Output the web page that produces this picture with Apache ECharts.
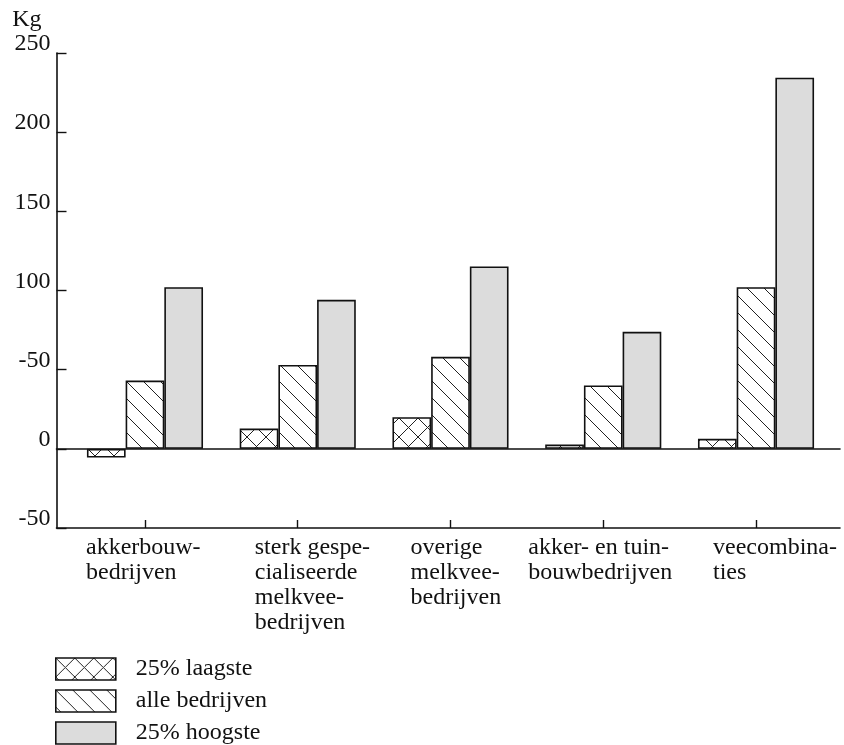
<!DOCTYPE html>
<html><head><meta charset="utf-8">
<script src="https://cdn.jsdelivr.net/npm/echarts@6/dist/echarts.min.js"></script>
<style>html,body{margin:0;padding:0;background:#fff}#c{width:844px;height:745px}</style>
</head><body><div id="c"></div>
<script>
// ---- data ----
const categories = [
  'akkerbouw-\nbedrijven',
  'sterk gespe-\ncialiseerde\nmelkvee-\nbedrijven',
  'overige\nmelkvee-\nbedrijven',
  'akker- en tuin-\nbouwbedrijven',
  'veecombina-\nties'
];
const seriesNames = ['25% laagste', 'alle bedrijven', '25% hoogste'];
const laagste = [-5.5, 12.8, 20.0, 2.7, 6.3];
const alle = [43.1, 53.0, 58.1, 40.0, 102.1];
const hoogste = [102.1, 94.1, 115.2, 73.9, 234.4];
const yTickValues = [-50, 0, 50, 100, 150, 200, 250];
const yTickLabels = ['-50', '0', '-50', '100', '150', '200', '250'];
const yUnit = 'Kg';

// ---- layout / style ----
const labelShift = [59, 43, 40, 75, 43];
const FONT = '"Liberation Serif", "DejaVu Serif", serif';
const INK = '#111';

function hatch(size, both) {
  const c = document.createElement('canvas');
  c.width = size; c.height = size;
  const g = c.getContext('2d');
  g.fillStyle = '#fff'; g.fillRect(0, 0, size, size);
  g.strokeStyle = '#222'; g.lineWidth = 1;
  g.beginPath();
  for (let k = -1; k <= 1; k++) {
    g.moveTo(0, k * size); g.lineTo(size, size + k * size);
    if (both) { g.moveTo(0, size + k * size); g.lineTo(size, k * size); }
  }
  g.stroke();
  return c;
}
const fills = [
  { image: hatch(19, true), repeat: 'repeat' },
  { image: hatch(17, false), repeat: 'repeat' },
  '#dcdcdc'
];
const seriesData = [laagste, alle, hoogste];

const chart = echarts.init(document.getElementById('c'), null, { renderer: 'canvas' });
const axisLineStyle = { color: INK, width: 1.6 };
const option = {
  animation: false,
  backgroundColor: '#fff',
  textStyle: { fontFamily: FONT, color: INK },
  grid: [
    { left: 56.5, right: 4, top: 53, bottom: 217, outerBoundsMode: 'none', containLabel: false },
    { left: 68.6, width: 763.8, top: 53, bottom: 217, outerBoundsMode: 'none', containLabel: false }
  ],
  legend: {
    orient: 'vertical', left: 55, top: 657, padding: 0, height: 160, width: 400,
    itemWidth: 60, itemHeight: 22, itemGap: 8,
    icon: 'rect', selectedMode: false,
    itemStyle: { borderColor: INK, borderWidth: 1.6 },
    textStyle: { fontFamily: FONT, fontSize: 24, color: INK, lineHeight: 22, padding: [0, 0, 0, 15] },
    data: seriesNames
  },
  xAxis: [
    { gridIndex: 0, type: 'value', min: 0, max: 1, position: 'top',
      axisLine: { show: true, onZero: true, lineStyle: axisLineStyle },
      axisTick: { show: false }, axisLabel: { show: false }, splitLine: { show: false } },
    { gridIndex: 0, type: 'value', min: 0, max: 1, position: 'bottom',
      axisLine: { show: true, onZero: false, lineStyle: axisLineStyle },
      axisTick: { show: false }, axisLabel: { show: false }, splitLine: { show: false } },
    { gridIndex: 1, type: 'category', position: 'bottom',
      data: categories.map((c, i) => ({ value: c, textStyle: { align: 'left', padding: [0, 0, 0, -labelShift[i]] } })),
      axisLine: { show: false, onZero: false },
      axisTick: { show: true, inside: true, length: 8, alignWithLabel: true, lineStyle: { color: INK, width: 1.4 } },
      axisLabel: { interval: 0, align: 'left', verticalAlign: 'top', margin: 7, fontFamily: FONT, fontSize: 24, lineHeight: 25, color: INK },
      splitLine: { show: false } }
  ],
  yAxis: [
    { gridIndex: 0, type: 'value', min: -50, max: 250, interval: 50,
      name: yUnit, nameLocation: 'end', nameGap: 20,
      nameTextStyle: { fontFamily: FONT, fontSize: 24, color: INK, align: 'right', verticalAlign: 'bottom', padding: [0, 15, 0, 0] },
      axisLine: { show: true, onZero: true, lineStyle: axisLineStyle },
      axisTick: { show: true, inside: true, length: 10, lineStyle: { color: INK, width: 1.4 } },
      axisLabel: { margin: 6, fontFamily: FONT, fontSize: 24, color: INK, verticalAlign: 'bottom', lineHeight: 18,
        formatter: v => { const i = yTickValues.indexOf(v); return i >= 0 ? yTickLabels[i] : ''; } },
      splitLine: { show: false } },
    { gridIndex: 1, type: 'value', min: -50, max: 250, interval: 50, show: false }
  ],
  series: seriesData.map((d, i) => ({
    name: seriesNames[i], type: 'bar', xAxisIndex: 2, yAxisIndex: 1, data: d,
    barGap: '0%', barCategoryGap: '24%',
    itemStyle: { color: fills[i], borderColor: INK, borderWidth: 1.6 },
    emphasis: { disabled: true }
  }))
};
chart.setOption(option);
</script>
</body></html>
